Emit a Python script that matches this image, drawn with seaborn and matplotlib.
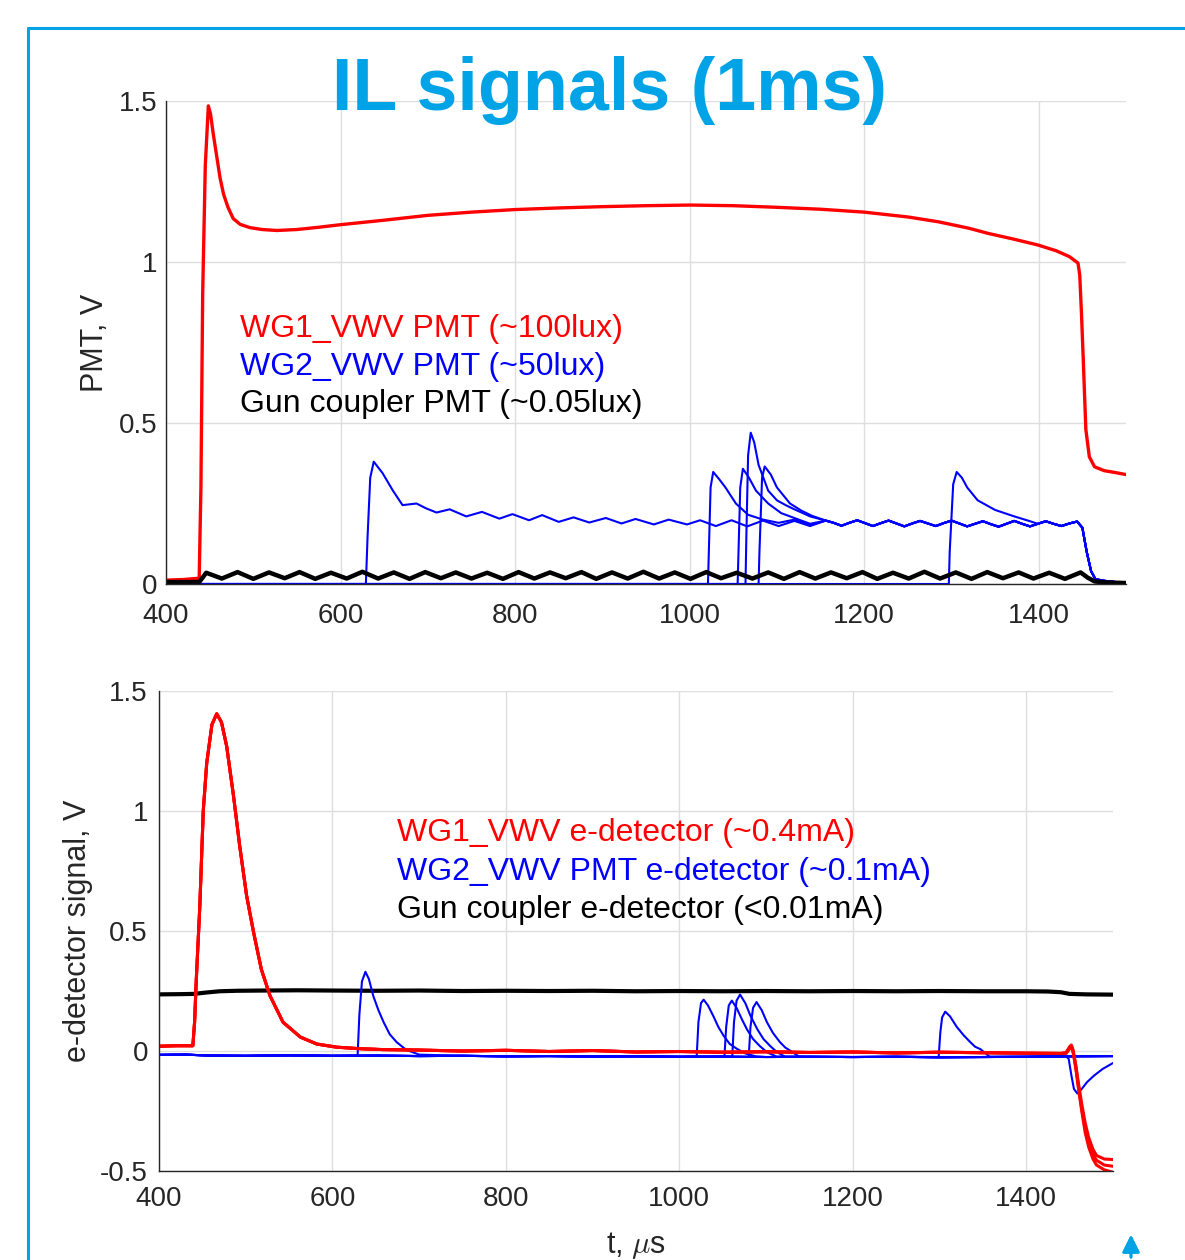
import seaborn as sns
import matplotlib.pyplot as plt
from matplotlib.lines import Line2D

# ---------------- top panel: PMT signals ----------------
pmt_red_t = [400, 420, 438, 440, 442, 445, 448.5, 451, 454, 458,
             462, 466, 471, 477, 485, 496, 510, 527, 550, 575,
             600, 650, 700, 750, 800, 850, 900, 950, 1000, 1050,
             1100, 1150, 1200, 1250, 1285, 1320, 1342, 1370, 1399, 1420,
             1435, 1445, 1447, 1449, 1451, 1454, 1458, 1464, 1475, 1486,
             1496, 1500]
pmt_red_v = [0.012, 0.014, 0.018, 0.3, 0.9, 1.3, 1.485, 1.46, 1.40, 1.33,
             1.26, 1.21, 1.17, 1.135, 1.117, 1.107, 1.101, 1.098, 1.101, 1.108,
             1.116, 1.13, 1.145, 1.155, 1.163, 1.168, 1.172, 1.175, 1.177, 1.175,
             1.17, 1.164, 1.155, 1.14, 1.125, 1.105, 1.089, 1.072, 1.053, 1.035,
             1.017, 0.997, 0.96, 0.84, 0.7, 0.48, 0.395, 0.364, 0.352, 0.347,
             0.342, 0.34]

pmt_black_t = [400, 438, 442,
               446, 464, 482, 500, 518, 536, 553, 571, 589, 607,
               625, 643, 661, 679, 697, 715, 732, 750, 768, 786,
               804, 822, 840, 858, 876, 893, 911, 929, 947, 965,
               983, 1001, 1019, 1036, 1054, 1072, 1090, 1108, 1126, 1144,
               1162, 1180, 1198, 1215, 1233, 1251, 1269, 1287, 1305, 1323,
               1341, 1359, 1377, 1394, 1412, 1430, 1448,
               1456, 1464, 1476, 1488, 1500]
pmt_black_v = [0.006, 0.006, 0.02,
               0.035, 0.017, 0.037, 0.016, 0.036, 0.018, 0.037, 0.016, 0.035, 0.017,
               0.038, 0.017, 0.036, 0.016, 0.037, 0.018, 0.036, 0.017, 0.035, 0.016,
               0.037, 0.017, 0.036, 0.018, 0.037, 0.016, 0.036, 0.017, 0.038, 0.017,
               0.036, 0.016, 0.037, 0.018, 0.035, 0.017, 0.036, 0.016, 0.037, 0.017,
               0.036, 0.018, 0.037, 0.016, 0.035, 0.017, 0.038, 0.017, 0.036, 0.016,
               0.037, 0.018, 0.036, 0.017, 0.035, 0.016, 0.036,
               0.02, 0.008, 0.005, 0.004, 0.003]

# common blue tail (all WG2 traces merge here)
pmt_blue_tail_t = [1156, 1165, 1174, 1183, 1192, 1201, 1210, 1219, 1228, 1237,
                   1246, 1255, 1264, 1273, 1282, 1291, 1300, 1309, 1318, 1327,
                   1336, 1345, 1354, 1363, 1372, 1381, 1390, 1399, 1408, 1417,
                   1426, 1435, 1444, 1450, 1455, 1460, 1465, 1475, 1488, 1500]
pmt_blue_tail_v = [0.197, 0.19, 0.181, 0.19, 0.198, 0.189, 0.18, 0.189, 0.197, 0.188,
                   0.179, 0.188, 0.196, 0.188, 0.18, 0.189, 0.197, 0.188, 0.179, 0.187,
                   0.195, 0.186, 0.178, 0.187, 0.196, 0.187, 0.179, 0.187, 0.195, 0.187,
                   0.18, 0.188, 0.194, 0.175, 0.1, 0.04, 0.015, 0.01, 0.006, 0.004]

# individual blue pulses (onset -> merge)
pmt_blue_heads = [
    ([400, 629, 631, 634, 638, 648, 660, 671, 687, 698,
      710, 725, 744, 762, 782, 797, 816, 831, 850, 867,
      885, 904, 922, 938, 959, 976, 997, 1012, 1030, 1048,
      1066, 1084, 1102, 1120, 1138],
     [0.0, 0.0, 0.15, 0.33, 0.38, 0.345, 0.29, 0.245, 0.25, 0.235,
      0.222, 0.232, 0.21, 0.224, 0.203, 0.217, 0.198, 0.214, 0.193, 0.207,
      0.191, 0.205, 0.188, 0.202, 0.185, 0.2, 0.185, 0.198, 0.18, 0.198,
      0.179, 0.197, 0.18, 0.196, 0.18]),
    ([400, 1021, 1022, 1024, 1027, 1034, 1041, 1053, 1067, 1084, 1102, 1120, 1138],
     [0, 0, 0.1, 0.3, 0.348, 0.325, 0.3, 0.25, 0.215, 0.2, 0.19, 0.2, 0.183]),
    ([400, 1055, 1056, 1058, 1061, 1068, 1076, 1090, 1105, 1120, 1138],
     [0, 0, 0.1, 0.3, 0.358, 0.33, 0.29, 0.25, 0.22, 0.205, 0.187]),
    ([400, 1064, 1065, 1067, 1070, 1074, 1079, 1090, 1100, 1110, 1120, 1138],
     [0, 0, 0.15, 0.4, 0.47, 0.44, 0.37, 0.29, 0.26, 0.245, 0.232, 0.21]),
    ([400, 1079, 1080, 1083, 1086, 1093, 1100, 1115, 1128, 1140],
     [0, 0, 0.1, 0.33, 0.365, 0.34, 0.3, 0.25, 0.228, 0.212]),
    ([400, 1297, 1298, 1302, 1306, 1312, 1318, 1330, 1350, 1372, 1390],
     [0, 0, 0.1, 0.31, 0.348, 0.33, 0.3, 0.26, 0.23, 0.21, 0.195]),
]

# ---------------- bottom panel: e-detector signals ----------------
edet_red_t = [400, 420, 439, 441, 443, 447, 451, 455, 461, 466.5,
              472, 478, 486, 493, 501, 509, 518, 528, 543, 563,
              582, 605, 630, 658, 700, 750, 800, 850, 900, 950,
              1000, 1050, 1100, 1150, 1200, 1250, 1300, 1350, 1400, 1440]
edet_red_v = [0.02, 0.022, 0.022, 0.12, 0.3, 0.6, 1.0, 1.2, 1.36, 1.405,
              1.37, 1.27, 1.06, 0.855, 0.647, 0.495, 0.34, 0.23, 0.12, 0.058,
              0.029, 0.016, 0.01, 0.006, 0.004, 0.0, 0.003, -0.002, 0.002, -0.004,
              -0.002, -0.005, -0.003, -0.006, -0.004, -0.008, -0.005, -0.007, -0.009, -0.01]
edet_red_end_t = [1446, 1450, 1452, 1454, 1457, 1460, 1464, 1468, 1472, 1477, 1481, 1490, 1500]
edet_red_ends = [
    [-0.006, 0.018, 0.025, 0.005, -0.06, -0.14, -0.24, -0.32, -0.38, -0.43, -0.455, -0.475, -0.48],
    [-0.008, 0.012, 0.02, 0.0, -0.055, -0.13, -0.22, -0.3, -0.36, -0.41, -0.435, -0.45, -0.452],
    [-0.01, 0.01, 0.018, -0.005, -0.07, -0.15, -0.25, -0.34, -0.4, -0.45, -0.475, -0.495, -0.505],
]

edet_black_t = [400, 425, 440, 455, 470, 490, 520, 560, 600, 650,
                700, 750, 800, 850, 900, 950, 1000, 1050, 1100, 1150,
                1200, 1250, 1300, 1350, 1400, 1425, 1440, 1450, 1470, 1500]
edet_black_v = [0.236, 0.237, 0.238, 0.244, 0.249, 0.251, 0.252, 0.253, 0.252, 0.251,
                0.252, 0.250, 0.251, 0.250, 0.251, 0.249, 0.250, 0.249, 0.250, 0.249,
                0.250, 0.249, 0.250, 0.249, 0.249, 0.248, 0.245, 0.238, 0.236, 0.235]

edet_blue_base_t = [400, 430, 460, 500, 550, 600, 650, 700, 750, 800, 850, 900,
                    950, 1000, 1050, 1100, 1150, 1200, 1250, 1300, 1350, 1400, 1450, 1500]
edet_blue_base_v = [-0.016, -0.015, -0.019, -0.02, -0.018, -0.02, -0.019, -0.021, -0.02, -0.022, -0.021, -0.023,
                    -0.022, -0.024, -0.023, -0.025, -0.024, -0.025, -0.024, -0.026, -0.025, -0.024, -0.022, -0.021]
edet_blue_pulses = [
    ([629, 631, 634, 638, 642, 647, 653, 659, 666, 674, 685, 700],
     [-0.019, 0.15, 0.29, 0.33, 0.3, 0.23, 0.17, 0.12, 0.07, 0.037, 0.005, -0.015]),
    ([1020, 1022, 1025, 1028, 1033, 1039, 1045, 1051, 1058, 1066, 1076, 1088],
     [-0.023, 0.12, 0.2, 0.214, 0.19, 0.147, 0.1, 0.064, 0.03, 0.01, -0.01, -0.022]),
    ([1052, 1054, 1057, 1060.5, 1066, 1072, 1078, 1085, 1093, 1101, 1112],
     [-0.023, 0.1, 0.19, 0.21, 0.18, 0.133, 0.09, 0.05, 0.02, -0.005, -0.023]),
    ([1061, 1063, 1066, 1070, 1076, 1082, 1090, 1097, 1105, 1112, 1122],
     [-0.023, 0.12, 0.21, 0.235, 0.2, 0.147, 0.09, 0.05, 0.02, -0.003, -0.024]),
    ([1080, 1082, 1085, 1089, 1095, 1101, 1108, 1116, 1122, 1128, 1138],
     [-0.024, 0.1, 0.18, 0.204, 0.17, 0.12, 0.075, 0.037, 0.015, 0.001, -0.023]),
    ([1299, 1301, 1303, 1306.6, 1312, 1320, 1328, 1335.5, 1341, 1347, 1358],
     [-0.025, 0.08, 0.14, 0.164, 0.145, 0.1, 0.065, 0.037, 0.018, 0.008, -0.024]),
]
edet_blue_dip_t = [1446, 1449, 1452, 1455, 1459, 1464, 1470, 1478, 1488, 1500]
edet_blue_dip_v = [-0.022, -0.033, -0.1, -0.158, -0.177, -0.158, -0.13, -0.103, -0.075, -0.05]

pmt_labels = ["WG1_VWV PMT (~100lux)", "WG2_VWV PMT (~50lux)", "Gun coupler PMT (~0.05lux)"]
edet_labels = ["WG1_VWV e-detector (~0.4mA)", "WG2_VWV PMT e-detector (~0.1mA)",
               "Gun coupler e-detector (<0.01mA)"]
label_colors = ["#ff0000", "#0000ff", "#000000"]
x_ticks = [400, 600, 800, 1000, 1200, 1400]

CYAN = "#00a3e6"
TICK_GREY = "#262626"


def join_tail(head_t, head_v, tail_t, tail_v):
    """head of a trace followed by the shared tail"""
    t = list(head_t) + [a for a in tail_t if a > head_t[-1]]
    v = list(head_v) + [b for a, b in zip(tail_t, tail_v) if a > head_t[-1]]
    return t, v


def on_baseline(base_t, base_v, pt, pv):
    """put a pulse on top of the baseline trace"""
    pts = [(a, b) for a, b in zip(base_t, base_v) if a < pt[0] or a > pt[-1]]
    pts = sorted(pts + list(zip(pt, pv)))
    return [a for a, _ in pts], [b for _, b in pts]


def style_axes(ax, ylim, yticks, ylabels, xpad, ypad):
    ax.set_xlim(400, 1500)
    ax.set_ylim(*ylim)
    ax.set_xticks(x_ticks)
    ax.set_xticklabels([str(x) for x in x_ticks])
    ax.set_yticks(yticks)
    ax.set_yticklabels(ylabels)
    ax.grid(True, color="#dedede", lw=1.0)
    ax.set_axisbelow(True)
    for s in ["top", "right"]:
        ax.spines[s].set_visible(False)
    for s in ["left", "bottom"]:
        ax.spines[s].set_color(TICK_GREY)
        ax.spines[s].set_linewidth(1.0)
    ax.tick_params(axis="both", direction="in", length=6, width=1, color=TICK_GREY,
                   labelcolor=TICK_GREY, labelsize=20)
    ax.tick_params(axis="x", pad=xpad)
    ax.tick_params(axis="y", pad=ypad)


sns.set_theme(style="white")
plt.rcParams["font.family"] = ["Liberation Sans", "DejaVu Sans"]
plt.rcParams["mathtext.fontset"] = "cm"

fig = plt.figure(figsize=(11.85, 12.6), dpi=100)
ax1 = fig.add_axes([0.1401, 0.5365, 0.8101, 0.3833])
ax2 = fig.add_axes([0.1342, 0.0706, 0.8050, 0.3810])

# top panel
sns.lineplot(x=pmt_red_t, y=pmt_red_v, ax=ax1, color="#ff0000", lw=2.4, sort=False, estimator=None)
for head_t, head_v in pmt_blue_heads:
    t, v = join_tail(head_t, head_v, pmt_blue_tail_t, pmt_blue_tail_v)
    sns.lineplot(x=t, y=v, ax=ax1, color="#0000ff", lw=1.5, sort=False, estimator=None)
sns.lineplot(x=pmt_black_t, y=pmt_black_v, ax=ax1, color="#000000", lw=3.2, sort=False, estimator=None)

# bottom panel
sns.lineplot(x=edet_black_t, y=edet_black_v, ax=ax2, color="#000000", lw=3.0, sort=False, estimator=None)
for i, (pt, pv) in enumerate(edet_blue_pulses):
    t, v = on_baseline(edet_blue_base_t, edet_blue_base_v, pt, pv)
    if i == 0:
        t, v = on_baseline(t, v, edet_blue_dip_t, edet_blue_dip_v)
    sns.lineplot(x=t, y=v, ax=ax2, color="#0000ff", lw=1.5, sort=False, estimator=None)
for end_v in edet_red_ends:
    t = edet_red_t + edet_red_end_t
    v = edet_red_v + end_v
    sns.lineplot(x=t, y=v, ax=ax2, color="#ff0000", lw=2.2, sort=False, estimator=None)

style_axes(ax1, (0, 1.5), [0, 0.5, 1, 1.5], ["0", "0.5", "1", "1.5"], 14, 6)
style_axes(ax2, (-0.5, 1.5), [-0.5, 0, 0.5, 1, 1.5], ["-0.5", "0", "0.5", "1", "1.5"], 11, 8)

ax1.set_ylabel("PMT, V", fontsize=22, color=TICK_GREY)
ax1.yaxis.set_label_coords(-0.058, 0.5)
ax2.set_ylabel("e-detector signal, V", fontsize=22, color=TICK_GREY)
ax2.yaxis.set_label_coords(-0.069, 0.5)
ax2.set_xlabel(r"t, $\mu$s", fontsize=22, color=TICK_GREY)
ax2.xaxis.set_label_coords(0.5, -0.122)
ax1.set_xlabel("")

for lab, col, yy in zip(pmt_labels, label_colors, [0.511, 0.433, 0.356]):
    ax1.text(0.0771, yy, lab, transform=ax1.transAxes, color=col, fontsize=23, va="baseline")
for lab, col, yy in zip(edet_labels, label_colors, [0.6875, 0.606, 0.527]):
    ax2.text(0.2495, yy, lab, transform=ax2.transAxes, color=col, fontsize=23, va="baseline")

# slide title and frame
fig.text(610 / 1185, 1 - 110 / 1260, "IL signals (1ms)", ha="center", va="baseline",
         fontsize=53, fontweight="bold", color=CYAN)
fig.add_artist(Line2D([28 / 1185, 28 / 1185], [0, 1 - 28 / 1260], color=CYAN, lw=2.2))
fig.add_artist(Line2D([28 / 1185, 1], [1 - 28 / 1260, 1 - 28 / 1260], color=CYAN, lw=2.2))
fig.add_artist(plt.annotate("", xy=(1131 / 1185, 1 - 1232 / 1260), xytext=(1131 / 1185, 0),
                            xycoords="figure fraction", textcoords="figure fraction",
                            arrowprops=dict(arrowstyle="-|>", color=CYAN, lw=2, mutation_scale=26)))

fig.savefig("out.png", dpi=100)
